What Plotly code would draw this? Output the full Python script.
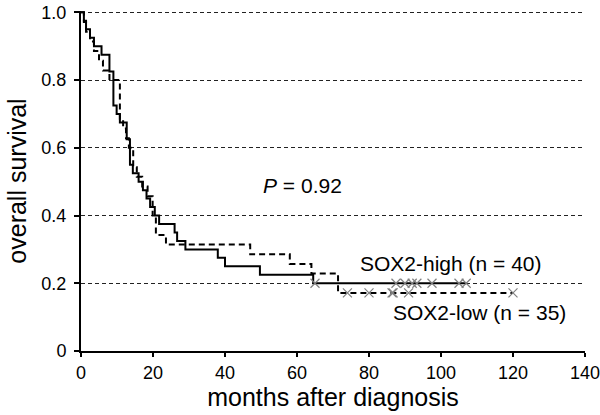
import plotly.graph_objects as go

# months after diagnosis: deaths (events) and last follow-up (censored)
high_events = [0.8, 1.4, 2.5, 3.6, 5.7, 7.9, 7.9, 9.0, 9.0, 9.0, 9.0, 9.9, 10.8,
               12.7, 12.7, 13.6, 13.6, 13.6, 14.4, 16.0, 17.2, 18.2, 19.2, 20.5, 21.7,
               26.0, 26.7, 29.0, 38.0, 40.0, 49.7, 64.5]
high_censored = [65.0, 87.5, 90.0, 92.0, 93.3, 97.5, 105.0, 107.0]

low_events = [0.8, 1.4, 2.5, 3.6, 5.0, 6.1, 7.9, 10.8, 10.8, 10.8, 10.8, 11.7,
              12.5, 13.3, 14.5, 14.5, 15.5, 17.0, 18.5, 19.9, 19.9, 20.8, 20.8,
              23.6, 47.0, 58.0, 64.0, 71.4, 71.4]
low_censored = [74.0, 80.0, 86.4, 86.7, 91.0, 120.0]

y_ticks = [0, 0.2, 0.4, 0.6, 0.8, 1.0]
y_labels = ["0", "0.2", "0.4", "0.6", "0.8", "1.0"]
x_ticks = [0, 20, 40, 60, 80, 100, 120, 140]


def km(events, censored):
    times = sorted(set(events + censored))
    at_risk = len(events) + len(censored)
    s = 1.0
    xs, ys, cx, cy = [0], [1.0], [], []
    for t in times:
        d = events.count(t); c = censored.count(t)
        if d:
            s *= (at_risk - d) / at_risk
            xs.append(t); ys.append(s)
        if c:
            cx += [t] * c; cy += [s] * c
        at_risk -= d + c
    xs.append(times[-1]); ys.append(s)
    return xs, ys, cx, cy


fig = go.Figure()
for ev, ce, dash in [(high_events, high_censored, "solid"), (low_events, low_censored, "6px,4px")]:
    xs, ys, cx, cy = km(ev, ce)
    fig.add_trace(go.Scatter(x=xs, y=ys, mode="lines", line=dict(shape="hv", color="black", width=2, dash=dash),
                             showlegend=False, hoverinfo="skip"))
    fig.add_trace(go.Scatter(x=cx, y=cy, mode="markers", showlegend=False,
                             marker=dict(symbol="x-thin", size=9, line=dict(color="#808080", width=1.2))))

font = "Liberation Sans, Arial, sans-serif"
fig.add_annotation(x=61.4, y=0.489, text="<i>P</i> = 0.92", showarrow=False, font=dict(size=21))
fig.add_annotation(x=102.8, y=0.257, text="SOX2-high (n = 40)", showarrow=False, font=dict(size=21))
fig.add_annotation(x=110.7, y=0.115, text="SOX2-low (n = 35)", showarrow=False, font=dict(size=21))

fig.update_layout(width=600, height=415, margin=dict(l=81, r=15, t=11, b=64),
                  plot_bgcolor="white", paper_bgcolor="white",
                  font=dict(family=font, color="black", size=18))
fig.update_xaxes(range=[0, 140], tickvals=x_ticks, showgrid=False, zeroline=False, automargin=False,
                 showline=True, linecolor="black", linewidth=2, ticks="outside", ticklen=4,
                 tickcolor="black", tickwidth=1.5, ticklabeloverflow="allow",
                 title=dict(text="months after diagnosis", font=dict(size=25), standoff=6))
fig.update_yaxes(range=[0, 1.004], tickvals=y_ticks, ticktext=y_labels, showgrid=True, gridcolor="#222222",
                 griddash="4px,3px", gridwidth=1, zeroline=False, showline=True, linecolor="black", linewidth=2,
                 ticks="outside", ticklen=5, tickcolor="black", tickwidth=1.5, ticklabelstandoff=4,
                 ticklabeloverflow="allow", automargin=False,
                 title=dict(text="overall survival", font=dict(size=25), standoff=8))

# drop the browser's default 8px body margin so the 600x415 figure fills the window
fig.write_html("out.html", config={"displayModeBar": False},
               post_script="document.body.style.margin='0';")
